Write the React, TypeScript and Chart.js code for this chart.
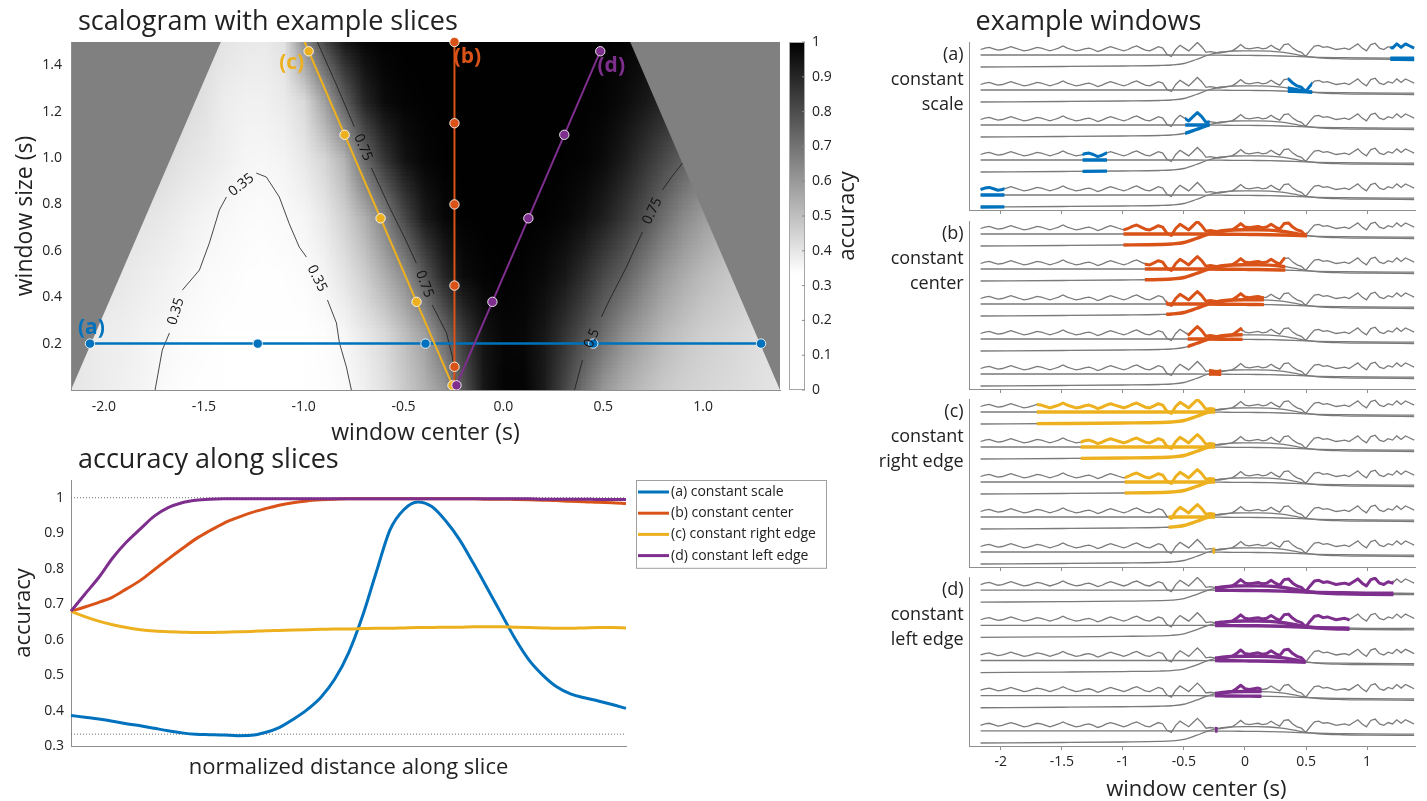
import React, { useEffect, useRef } from "react";
import { Chart, registerables } from "chart.js";

Chart.register(...registerables);

const FONT_FAMILY = '"Open Sans", "Noto Sans", sans-serif';
const TEXT_COLOR = "#222222";
const AXIS_COLOR = "#8f8f8f";
const COLOR_A = "#0072BD";
const COLOR_B = "#D95319";
const COLOR_C = "#EDB120";
const COLOR_D = "#7E2F8E";
const MASK_GRAY = "#808080";
const TRACE_GRAY = "#7a7a7a";

// ---------------- data: scalogram ----------------
const SIGNAL_START = -2.165;
const SIGNAL_END = 1.385;
const HM_SIZE_MAX = 1.5;
const CMAP_LOW = 1 / 3;

const GRID_CENTERS = [-2.2, -2.1, -2.0, -1.9, -1.8, -1.7, -1.6, -1.5, -1.4, -1.3, -1.2, -1.1, -1.0, -0.9, -0.8, -0.7, -0.6, -0.5, -0.4, -0.3, -0.2, -0.1, 0.0, 0.1, 0.2, 0.3, 0.4, 0.5, 0.6, 0.7, 0.8, 0.9, 1.0, 1.1, 1.2, 1.3, 1.4];
const GRID_SIZES = [0, 0.25, 0.5, 0.75, 1.0, 1.25, 1.5];
const ACC_S000 = [0.40, 0.39, 0.38, 0.37, 0.36, 0.345, 0.337, 0.333, 0.33, 0.33, 0.33, 0.33, 0.33, 0.335, 0.345, 0.37, 0.41, 0.47, 0.53, 0.60, 0.78, 0.94, 0.99, 0.99, 0.93, 0.82, 0.70, 0.60, 0.54, 0.50, 0.47, 0.45, 0.44, 0.43, 0.42, 0.41, 0.40];
const ACC_S025 = [0.40, 0.39, 0.38, 0.375, 0.365, 0.355, 0.345, 0.338, 0.333, 0.331, 0.33, 0.329, 0.33, 0.338, 0.355, 0.39, 0.43, 0.50, 0.58, 0.72, 0.85, 0.95, 0.985, 0.98, 0.94, 0.87, 0.79, 0.71, 0.63, 0.57, 0.52, 0.485, 0.46, 0.445, 0.43, 0.415, 0.405];
const ACC_S050 = [0.42, 0.41, 0.40, 0.39, 0.38, 0.37, 0.358, 0.347, 0.34, 0.335, 0.333, 0.335, 0.342, 0.36, 0.40, 0.46, 0.54, 0.63, 0.77, 0.90, 0.97, 0.99, 0.995, 0.99, 0.975, 0.94, 0.88, 0.81, 0.75, 0.67, 0.60, 0.55, 0.51, 0.485, 0.465, 0.45, 0.44];
const ACC_S075 = [0.44, 0.43, 0.42, 0.41, 0.40, 0.39, 0.375, 0.362, 0.352, 0.345, 0.34, 0.347, 0.358, 0.39, 0.45, 0.54, 0.66, 0.81, 0.93, 0.98, 0.995, 0.997, 0.997, 0.997, 0.995, 0.985, 0.96, 0.92, 0.86, 0.79, 0.71, 0.64, 0.59, 0.55, 0.52, 0.50, 0.48];
const ACC_S100 = [0.47, 0.46, 0.45, 0.445, 0.44, 0.425, 0.405, 0.39, 0.375, 0.358, 0.355, 0.362, 0.39, 0.44, 0.53, 0.72, 0.86, 0.95, 0.985, 0.995, 0.997, 0.997, 0.997, 0.997, 0.997, 0.995, 0.99, 0.97, 0.93, 0.87, 0.81, 0.75, 0.69, 0.64, 0.60, 0.57, 0.55];
const ACC_S125 = [0.50, 0.49, 0.48, 0.47, 0.46, 0.45, 0.43, 0.41, 0.38, 0.37, 0.37, 0.385, 0.43, 0.575, 0.75, 0.90, 0.97, 0.99, 0.995, 0.997, 0.997, 0.997, 0.997, 0.997, 0.997, 0.997, 0.995, 0.99, 0.97, 0.94, 0.90, 0.85, 0.80, 0.76, 0.72, 0.69, 0.66];
const ACC_S150 = [0.53, 0.52, 0.51, 0.50, 0.49, 0.47, 0.45, 0.42, 0.40, 0.39, 0.385, 0.41, 0.62, 0.80, 0.93, 0.98, 0.995, 0.997, 0.997, 0.997, 0.997, 0.997, 0.997, 0.997, 0.997, 0.997, 0.997, 0.995, 0.99, 0.98, 0.96, 0.93, 0.90, 0.87, 0.84, 0.81, 0.78];
const ACC_GRID = [ACC_S000, ACC_S025, ACC_S050, ACC_S075, ACC_S100, ACC_S125, ACC_S150];

const HM_X_TICKS = [-2, -1.5, -1, -0.5, 0, 0.5, 1];
const HM_Y_TICKS = [0.2, 0.4, 0.6, 0.8, 1.0, 1.2, 1.4];
const CBAR_TICKS = [0, 0.1, 0.2, 0.3, 0.4, 0.5, 0.6, 0.7, 0.8, 0.9, 1];

// slices (window center, window size)
const SLICE_A_SIZE = 0.2;
const SLICE_A_CENTERS = [-2.07, -1.23, -0.39, 0.45, 1.29];
const SLICE_B_CENTER = -0.245;
const SLICE_B_SIZES = [0.1, 0.45, 0.8, 1.15, 1.5];
const SLICE_B_EXTENT = [0.0, 1.5];
const SLICE_C_RIGHT_EDGE = -0.245;
const SLICE_C_SIZES = [0.02, 0.38, 0.74, 1.1, 1.46];
const SLICE_C_EXTENT = [0.02, 1.5];
const SLICE_D_LEFT_EDGE = -0.245;
const SLICE_D_SIZES = [0.02, 0.38, 0.74, 1.1, 1.46];
const SLICE_D_EXTENT = [0.02, 1.46];

const SLICE_LABELS = [
  { text: "(a)", c: -2.063, s: 0.267, color: COLOR_A },
  { text: "(b)", c: -0.18, s: 1.435, color: COLOR_B },
  { text: "(c)", c: -1.06, s: 1.41, color: COLOR_C },
  { text: "(d)", c: 0.54, s: 1.397, color: COLOR_D },
];

// contour traces (center, size), split where labels sit
const CONTOUR_035 = [
  [[-1.744, 0.0], [-1.708, 0.172], [-1.672, 0.246]],
  [[-1.607, 0.431], [-1.522, 0.517], [-1.472, 0.634], [-1.422, 0.776], [-1.387, 0.832]],
  [[-1.237, 0.935], [-1.187, 0.918], [-1.122, 0.832], [-1.072, 0.716], [-1.022, 0.616], [-0.986, 0.573]],
  [[-0.881, 0.388], [-0.836, 0.289], [-0.821, 0.203], [-0.786, 0.099], [-0.761, 0.0]],
];
const CONTOUR_035_LABELS = ["0.35", "0.35", "0.35"];
const CONTOUR_075_LEFT = [
  [[-0.931, 1.5], [-0.836, 1.315], [-0.746, 1.134]],
  [[-0.661, 0.957], [-0.571, 0.789], [-0.496, 0.659], [-0.436, 0.547]],
  [[-0.356, 0.366], [-0.285, 0.246], [-0.255, 0.142], [-0.235, 0.0]],
];
const CONTOUR_075_LEFT_LABELS = ["0.75", "0.75"];
const CONTOUR_RIGHT = [
  [[0.896, 0.978], [0.831, 0.905], [0.796, 0.862]],
  [[0.696, 0.681], [0.616, 0.53], [0.531, 0.388], [0.491, 0.315]],
  [[0.396, 0.129], [0.356, 0.0]],
];
const CONTOUR_RIGHT_LABELS = ["0.75", "0.5"];

// ---------------- data: accuracy along slices ----------------
const ACC_T = [0, 0.025, 0.05, 0.075, 0.1, 0.125, 0.15, 0.175, 0.2, 0.225, 0.25, 0.275, 0.3, 0.325, 0.35, 0.375, 0.4, 0.425, 0.45, 0.475, 0.5, 0.525, 0.55, 0.575, 0.6, 0.625, 0.65, 0.675, 0.7, 0.725, 0.75, 0.775, 0.8, 0.825, 0.85, 0.875, 0.9, 0.925, 0.95, 0.975, 1.0];
const ACC_A = [0.386, 0.381, 0.376, 0.37, 0.363, 0.357, 0.35, 0.343, 0.337, 0.333, 0.332, 0.331, 0.329, 0.33, 0.338, 0.352, 0.375, 0.402, 0.437, 0.488, 0.562, 0.665, 0.79, 0.91, 0.967, 0.988, 0.975, 0.935, 0.882, 0.815, 0.745, 0.674, 0.603, 0.543, 0.5, 0.467, 0.447, 0.436, 0.427, 0.417, 0.406];
const ACC_B = [0.68, 0.692, 0.705, 0.72, 0.743, 0.767, 0.797, 0.827, 0.856, 0.884, 0.907, 0.928, 0.944, 0.958, 0.969, 0.979, 0.986, 0.991, 0.994, 0.996, 0.997, 0.997, 0.997, 0.997, 0.997, 0.997, 0.997, 0.997, 0.997, 0.997, 0.996, 0.996, 0.995, 0.994, 0.993, 0.992, 0.99, 0.989, 0.987, 0.986, 0.984];
const ACC_C = [0.68, 0.665, 0.652, 0.642, 0.634, 0.628, 0.624, 0.622, 0.621, 0.62, 0.62, 0.621, 0.622, 0.623, 0.625, 0.626, 0.627, 0.628, 0.629, 0.63, 0.63, 0.631, 0.632, 0.632, 0.633, 0.634, 0.634, 0.635, 0.635, 0.636, 0.636, 0.636, 0.635, 0.634, 0.633, 0.632, 0.632, 0.633, 0.634, 0.634, 0.633];
const ACC_D = [0.68, 0.728, 0.775, 0.83, 0.875, 0.912, 0.948, 0.972, 0.986, 0.993, 0.996, 0.997, 0.997, 0.997, 0.997, 0.997, 0.997, 0.997, 0.997, 0.997, 0.997, 0.997, 0.997, 0.997, 0.997, 0.997, 0.997, 0.997, 0.997, 0.997, 0.997, 0.997, 0.997, 0.997, 0.996, 0.996, 0.996, 0.996, 0.995, 0.995, 0.995];
const ACC_SERIES_LABELS = ["(a) constant scale", "(b) constant center", "(c) constant right edge", "(d) constant left edge"];
const ACC_Y_TICKS = [0.3, 0.4, 0.5, 0.6, 0.7, 0.8, 0.9, 1.0];
const REF_LEVELS = [1, 1 / 3];

// ---------------- data: example windows ----------------
const SIGNAL = [0, 1.4, 2.1, 0.7, -0.7, 0, 1.4, 2.8, 1.4, 0, -1.4,
  -0.7, 0.7, 2.1, 1.4, 0, -1.4, 0, 1.4, 3.5, 1.4,
  0, -1.4, -0.7, 0.7, 1.4, 0, -2.1, -0.7, 1.4, 2.8,
  1.4, 0, -1.4, 0, 2.1, 3.5, 1.4, -0.7, -1.4, 0.7,
  2.8, 1.4, -4.9, -7, 0, 4.2, 1.4, -1.4, 2.8, 7,
  2.8, -2.8, -2.1, -2.8, -3.5, -2.8, -2.1, -1.4, 1.4, 4.9,
  1.4, 0.7, 1.4, 2.1, 0.7, 1.4, 4.2, 1.4, -0.7, 4.9,
  5.6, 1.4, -1.4, -2.8, -7, -1.4, 3.5, 4.2, 2.1, 2.8,
  1.4, 0, 0.7, 1.4, 0, 2.8, 5.6, 1.4, -1.4, 4.9,
  6.3, 1.4, 0, 2.8, 1.4, 5.6, 2.1, 5.6, 3.5, 1.4];
const TEMPLATE_T = [-2.165, -1.5, -1.0, -0.7, -0.6, -0.5, -0.4, -0.3, -0.2, -0.1, 0.0, 0.1, 0.2, 0.3, 0.4, 0.5, 0.6, 0.8, 1.0, 1.385];
const TEMPLATE_A = [12, 12, 12, 12, 12, 12, 12, 11.9, 11.8, 11.7, 11.6, 11.5, 11.3, 11.0, 10.6, 10.1, 9.7, 9.3, 9.0, 8.8];
const TEMPLATE_B = [0, 0.5, 1, 1.5, 2, 3.5, 7.5, 12, 15, 16, 16.2, 16.2, 15.9, 14.8, 12.8, 10.6, 9.2, 8.2, 7.8, 7.5];
const WIN_X_TICKS = [-2, -1.5, -1, -0.5, 0, 0.5, 1];

// ---------------- layout constants ----------------
const ROW_PITCH = 35;
const NOISE_LEVEL = 17.5;
const WIN_Y_MIN = -3;
const WIN_Y_MAX = 165;
const WIN_X_MIN = -2.255;
const WIN_X_MAX = 1.392;

const font = (size: number, weight = "normal") => `${weight} ${size}px ${FONT_FAMILY}`;

function grayFor(v: number) {
  const f = Math.min(1, Math.max(0, (v - CMAP_LOW) / (1 - CMAP_LOW)));
  return Math.round(255 * (1 - f));
}

// ---------------- plugins ----------------
const heatmapPlugin = {
  id: "heatmap",
  beforeDatasetsDraw(chart: any) {
    const { ctx, chartArea: a, scales } = chart;
    const x = scales.x, y = scales.y;
    ctx.save();
    ctx.beginPath();
    ctx.rect(a.left, a.top, a.right - a.left, a.bottom - a.top);
    ctx.clip();
    ctx.fillStyle = MASK_GRAY;
    ctx.fillRect(a.left, a.top, a.right - a.left, a.bottom - a.top);
    // valid region: window fits inside the signal
    ctx.beginPath();
    ctx.moveTo(x.getPixelForValue(SIGNAL_START), y.getPixelForValue(0));
    ctx.lineTo(x.getPixelForValue(SIGNAL_END), y.getPixelForValue(0));
    ctx.lineTo(x.getPixelForValue(SIGNAL_END - HM_SIZE_MAX / 2), y.getPixelForValue(HM_SIZE_MAX));
    ctx.lineTo(x.getPixelForValue(SIGNAL_START + HM_SIZE_MAX / 2), y.getPixelForValue(HM_SIZE_MAX));
    ctx.closePath();
    ctx.clip();
    const nC = GRID_CENTERS.length, nR = GRID_SIZES.length;
    const off = document.createElement("canvas");
    off.width = nC;
    off.height = nR;
    const octx = off.getContext("2d")!;
    const img = octx.createImageData(nC, nR);
    for (let r = 0; r < nR; r++) {
      const row = ACC_GRID[r];
      const iy = nR - 1 - r;
      for (let c = 0; c < nC; c++) {
        const g = grayFor(row[c]);
        const k = (iy * nC + c) * 4;
        img.data[k] = g; img.data[k + 1] = g; img.data[k + 2] = g; img.data[k + 3] = 255;
      }
    }
    octx.putImageData(img, 0, 0);
    const dc = GRID_CENTERS[1] - GRID_CENTERS[0];
    const ds = GRID_SIZES[1] - GRID_SIZES[0];
    const x0 = x.getPixelForValue(GRID_CENTERS[0] - dc / 2);
    const x1 = x.getPixelForValue(GRID_CENTERS[nC - 1] + dc / 2);
    const yTop = y.getPixelForValue(GRID_SIZES[nR - 1] + ds / 2);
    const yBot = y.getPixelForValue(GRID_SIZES[0] - ds / 2);
    ctx.imageSmoothingEnabled = true;
    ctx.drawImage(off, x0, yTop, x1 - x0, yBot - yTop);
    ctx.restore();
  },
};

const CONTOURS = [
  { segs: CONTOUR_035, labels: CONTOUR_035_LABELS },
  { segs: CONTOUR_075_LEFT, labels: CONTOUR_075_LEFT_LABELS },
  { segs: CONTOUR_RIGHT, labels: CONTOUR_RIGHT_LABELS },
];

const heatmapText = {
  id: "heatmapText",
  afterDraw(chart: any) {
    const { ctx, chartArea: a, scales } = chart;
    const x = scales.x, y = scales.y;
    ctx.save();
    // contour labels
    ctx.font = font(14);
    ctx.fillStyle = "#111";
    ctx.textAlign = "center";
    ctx.textBaseline = "middle";
    CONTOURS.forEach((cn) => {
      for (let i = 0; i < cn.segs.length - 1; i++) {
        const p = cn.segs[i][cn.segs[i].length - 1];
        const q = cn.segs[i + 1][0];
        const px = x.getPixelForValue(p[0]), py = y.getPixelForValue(p[1]);
        const qx = x.getPixelForValue(q[0]), qy = y.getPixelForValue(q[1]);
        let ang = Math.atan2(qy - py, qx - px);
        if (ang > Math.PI / 2) ang -= Math.PI;
        if (ang < -Math.PI / 2) ang += Math.PI;
        ctx.save();
        ctx.translate((px + qx) / 2, (py + qy) / 2);
        ctx.rotate(ang);
        ctx.fillText(cn.labels[i], 0, 0);
        ctx.restore();
      }
    });
    // slice labels
    ctx.font = font(21, "bold");
    SLICE_LABELS.forEach((l) => {
      ctx.fillStyle = l.color;
      ctx.fillText(l.text, x.getPixelForValue(l.c), y.getPixelForValue(l.s));
    });
    // title
    ctx.fillStyle = TEXT_COLOR;
    ctx.font = font(27);
    ctx.textAlign = "left";
    ctx.textBaseline = "alphabetic";
    ctx.fillText("scalogram with example slices", a.left + 7, 30);
    // axis titles
    ctx.font = font(23);
    ctx.textAlign = "center";
    ctx.textBaseline = "middle";
    ctx.fillText("window center (s)", (a.left + a.right) / 2, a.bottom + 43);
    ctx.save();
    ctx.translate(25, (a.top + a.bottom) / 2);
    ctx.rotate(-Math.PI / 2);
    ctx.fillText("window size (s)", 0, 0);
    ctx.restore();
    // colorbar
    const cbL = a.right + 9, cbW = 16, cbT = a.top, cbB = a.bottom;
    const grad = ctx.createLinearGradient(0, cbB, 0, cbT);
    [0, CMAP_LOW, 1].forEach((v) => {
      const g = grayFor(v);
      grad.addColorStop(v, `rgb(${g},${g},${g})`);
    });
    ctx.fillStyle = grad;
    ctx.fillRect(cbL, cbT, cbW, cbB - cbT);
    ctx.strokeStyle = "#a6a6a6";
    ctx.lineWidth = 1;
    ctx.strokeRect(cbL + 0.5, cbT + 0.5, cbW - 1, cbB - cbT - 1);
    ctx.font = font(14);
    ctx.textAlign = "left";
    ctx.fillStyle = TEXT_COLOR;
    CBAR_TICKS.forEach((v) => {
      const yy = cbB - (cbB - cbT) * v;
      ctx.beginPath();
      ctx.moveTo(cbL + cbW - 3, yy);
      ctx.lineTo(cbL + cbW, yy);
      ctx.strokeStyle = "#8a8a8a";
      ctx.stroke();
      ctx.fillText(v === 0 || v === 1 ? String(v) : v.toFixed(1), cbL + cbW + 7, yy);
    });
    ctx.font = font(22);
    ctx.textAlign = "center";
    ctx.save();
    ctx.translate(cbL + cbW + 43, (cbT + cbB) / 2);
    ctx.rotate(-Math.PI / 2);
    ctx.fillText("accuracy", 0, 0);
    ctx.restore();
    ctx.restore();
  },
};

const accuracyText = {
  id: "accuracyText",
  afterDraw(chart: any) {
    const { ctx, chartArea: a } = chart;
    ctx.save();
    ctx.fillStyle = TEXT_COLOR;
    ctx.font = font(27);
    ctx.textAlign = "left";
    ctx.textBaseline = "alphabetic";
    ctx.fillText("accuracy along slices", a.left + 7, 23);
    ctx.font = font(22);
    ctx.textAlign = "center";
    ctx.textBaseline = "middle";
    ctx.fillText("normalized distance along slice", (a.left + a.right) / 2, a.bottom + 22);
    ctx.save();
    ctx.translate(24, (a.top + a.bottom) / 2);
    ctx.rotate(-Math.PI / 2);
    ctx.fillText("accuracy", 0, 0);
    ctx.restore();
    // legend box
    const items = chart.data.datasets.filter((d: any) => d.inLegend);
    const bx = a.right + 10, by = a.top, bw = 190, rowH = 21.2, bh = items.length * rowH + 3;
    ctx.fillStyle = "#fff";
    ctx.fillRect(bx, by, bw, bh);
    ctx.strokeStyle = "#a0a0a0";
    ctx.lineWidth = 1;
    ctx.strokeRect(bx + 0.5, by + 0.5, bw, bh);
    ctx.font = font(14);
    ctx.textAlign = "left";
    items.forEach((d: any, i: number) => {
      const yy = by + 12 + i * rowH;
      ctx.strokeStyle = d.borderColor;
      ctx.lineWidth = 3;
      ctx.beginPath();
      ctx.moveTo(bx + 2, yy);
      ctx.lineTo(bx + 33, yy);
      ctx.stroke();
      ctx.fillStyle = TEXT_COLOR;
      ctx.fillText(d.label, bx + 35, yy);
    });
    ctx.restore();
  },
};

const windowClip = {
  id: "windowClip",
  beforeDatasetDraw(chart: any, args: any) {
    const ds = chart.data.datasets[args.index];
    if (!ds.windowRange) return;
    const { ctx, chartArea: a, scales } = chart;
    const xl = scales.x.getPixelForValue(ds.windowRange[0]);
    const xr = scales.x.getPixelForValue(ds.windowRange[1]);
    ctx.save();
    ctx.beginPath();
    ctx.rect(xl, a.top - 10, Math.max(xr - xl, 1.5), a.bottom - a.top + 20);
    ctx.clip();
  },
  afterDatasetDraw(chart: any, args: any) {
    const ds = chart.data.datasets[args.index];
    if (!ds.windowRange) return;
    chart.ctx.restore();
  },
};

const windowText = {
  id: "windowText",
  afterDraw(chart: any) {
    const { ctx, chartArea: a } = chart;
    const p = chart.options.plugins.windowText;
    ctx.save();
    ctx.fillStyle = TEXT_COLOR;
    ctx.font = font(18);
    ctx.textAlign = "right";
    ctx.textBaseline = "middle";
    p.label.forEach((t: string, i: number) => ctx.fillText(t, a.left - 6, a.top + 12.5 + i * 25));
    if (p.title) {
      ctx.font = font(27);
      ctx.textAlign = "left";
      ctx.textBaseline = "alphabetic";
      ctx.fillText(p.title, a.left + 6, 30);
    }
    if (p.xTitle) {
      ctx.font = font(22);
      ctx.textAlign = "center";
      ctx.textBaseline = "middle";
      ctx.fillText(p.xTitle, (a.left + a.right) / 2 + 4, a.bottom + 44);
    }
    ctx.restore();
  },
};

// ---------------- chart builders ----------------
const tickFont = { family: FONT_FAMILY, size: 14 };

function makeHeatmap(canvas: HTMLCanvasElement) {
  const dots = (pts: any[], color: string) => ({
    data: pts, showLine: false, pointRadius: 4.7, pointHoverRadius: 4.7,
    pointBackgroundColor: color, pointBorderColor: "rgba(255,255,255,0.85)", pointBorderWidth: 1, clip: false,
  });
  const line = (pts: any[], color: string, w: number, clip: any = false) => ({
    data: pts, showLine: true, borderColor: color, borderWidth: w, pointRadius: 0, pointHoverRadius: 0, clip,
  });
  const cOf = (s: number) => SLICE_C_RIGHT_EDGE - s / 2;
  const dOf = (s: number) => SLICE_D_LEFT_EDGE + s / 2;
  const datasets: any[] = [
    dots(SLICE_D_SIZES.map((s) => ({ x: dOf(s), y: s })), COLOR_D),
    line(SLICE_D_EXTENT.map((s) => ({ x: dOf(s), y: s })), COLOR_D, 2),
    dots(SLICE_C_SIZES.map((s) => ({ x: cOf(s), y: s })), COLOR_C),
    line(SLICE_C_EXTENT.map((s) => ({ x: cOf(s), y: s })), COLOR_C, 2),
    dots(SLICE_B_SIZES.map((s) => ({ x: SLICE_B_CENTER, y: s })), COLOR_B),
    line(SLICE_B_EXTENT.map((s) => ({ x: SLICE_B_CENTER, y: s })), COLOR_B, 2),
    dots(SLICE_A_CENTERS.map((c) => ({ x: c, y: SLICE_A_SIZE })), COLOR_A),
    line([SLICE_A_CENTERS[0], SLICE_A_CENTERS[SLICE_A_CENTERS.length - 1]].map((c) => ({ x: c, y: SLICE_A_SIZE })), COLOR_A, 2.5),
  ];
  CONTOURS.forEach((cn) => cn.segs.forEach((seg) => datasets.push(line(seg.map((p) => ({ x: p[0], y: p[1] })), "#1a1a1a", 0.8, true))));
  return new Chart(canvas as any, {
    type: "scatter",
    data: { datasets },
    options: {
      responsive: false,
      animation: false,
      events: [],
      layout: { padding: { left: 0, right: 120, top: 42, bottom: 0 } },
      plugins: { legend: { display: false }, tooltip: { enabled: false } },
      scales: {
        x: {
          type: "linear", min: SIGNAL_START, max: SIGNAL_END,
          afterBuildTicks: (s: any) => { s.ticks = HM_X_TICKS.map((v) => ({ value: v })); },
          afterFit: (s: any) => { s.height = 60; },
          ticks: { font: tickFont, color: TEXT_COLOR, padding: 9, maxRotation: 0, autoSkip: false, callback: (v: any) => Number(v).toFixed(1) },
          grid: { display: false, drawTicks: false },
          border: { display: true, color: AXIS_COLOR, z: 1 },
        },
        y: {
          type: "linear", min: 0, max: HM_SIZE_MAX,
          afterBuildTicks: (s: any) => { s.ticks = HM_Y_TICKS.map((v) => ({ value: v })); },
          afterFit: (s: any) => { s.width = 71; },
          ticks: { font: tickFont, color: TEXT_COLOR, padding: 9, autoSkip: false, callback: (v: any) => Number(v).toFixed(1) },
          grid: { display: false, drawTicks: false },
          border: { display: true, color: AXIS_COLOR, z: 1 },
        },
      },
    } as any,
    plugins: [heatmapPlugin, heatmapText],
  } as any);
}

function makeAccuracy(canvas: HTMLCanvasElement) {
  const series = [ACC_A, ACC_B, ACC_C, ACC_D];
  const colors = [COLOR_A, COLOR_B, COLOR_C, COLOR_D];
  const datasets: any[] = series.map((vals, i) => ({
    label: ACC_SERIES_LABELS[i],
    inLegend: true,
    data: vals.map((v, k) => ({ x: ACC_T[k], y: v })),
    borderColor: colors[i],
    borderWidth: 3,
    pointRadius: 0,
    cubicInterpolationMode: "monotone",
    order: 4 - i,
    clip: 3,
  }));
  REF_LEVELS.forEach((lv) => datasets.push({
    data: [{ x: 0, y: lv }, { x: 1, y: lv }],
    borderColor: "#6e6e6e", borderWidth: 1, borderDash: [1, 2], pointRadius: 0, order: 10,
  }));
  return new Chart(canvas as any, {
    type: "line",
    data: { datasets },
    options: {
      responsive: false,
      animation: false,
      events: [],
      layout: { padding: { left: 0, right: 274, top: 35, bottom: 0 } },
      plugins: { legend: { display: false }, tooltip: { enabled: false } },
      scales: {
        x: {
          type: "linear", min: 0, max: 1,
          ticks: { display: false },
          afterFit: (s: any) => { s.height = 55; },
          grid: { display: false, drawTicks: false },
          border: { display: true, color: AXIS_COLOR },
        },
        y: {
          type: "linear", min: 0.3, max: 1.05,
          afterBuildTicks: (s: any) => { s.ticks = ACC_Y_TICKS.map((v) => ({ value: v })); },
          afterFit: (s: any) => { s.width = 71; },
          ticks: { font: tickFont, color: TEXT_COLOR, padding: 7, autoSkip: false, callback: (v: any) => (Math.abs(v - 1) < 1e-9 ? "1" : Number(v).toFixed(1)) },
          grid: { display: false, drawTicks: false },
          border: { display: true, color: AXIS_COLOR },
        },
      },
    } as any,
    plugins: [accuracyText],
  } as any);
}

const SIGNAL_DT = (SIGNAL_END - SIGNAL_START) / (SIGNAL.length - 1);

const PANELS = [
  { color: COLOR_A, label: ["(a)", "constant", "scale"], windows: SLICE_A_CENTERS.map((c) => [c - SLICE_A_SIZE / 2, c + SLICE_A_SIZE / 2]).reverse(), top: 0, height: 215, padTop: 42, axisH: 5, showTicks: false, title: "example windows", xTitle: "" },
  { color: COLOR_B, label: ["(b)", "constant", "center"], windows: SLICE_B_SIZES.map((s) => [SLICE_B_CENTER - s / 2, SLICE_B_CENTER + s / 2]).reverse(), top: 215, height: 180, padTop: 6, axisH: 6, showTicks: false, title: "", xTitle: "" },
  { color: COLOR_C, label: ["(c)", "constant", "right edge"], windows: SLICE_C_SIZES.map((s) => [SLICE_C_RIGHT_EDGE - s, SLICE_C_RIGHT_EDGE]).reverse(), top: 393, height: 180, padTop: 6, axisH: 6, showTicks: false, title: "", xTitle: "" },
  { color: COLOR_D, label: ["(d)", "constant", "left edge"], windows: SLICE_D_SIZES.map((s) => [SLICE_D_LEFT_EDGE, SLICE_D_LEFT_EDGE + s]).reverse(), top: 571, height: 230, padTop: 6, axisH: 55, showTicks: true, title: "", xTitle: "window center (s)" },
];

const WIN_CANVAS_LEFT = 870;
const WIN_CANVAS_WIDTH = 557;

function makeWindows(canvas: HTMLCanvasElement, p: any) {
  const colored: any[] = [];
  const gray: any[] = [];
  p.windows.forEach((w: number[], r: number) => {
    const off = (p.windows.length - 1 - r) * ROW_PITCH;
    const noise = SIGNAL.map((v, i) => ({ x: SIGNAL_START + i * SIGNAL_DT, y: v + NOISE_LEVEL + off }));
    const ta = TEMPLATE_A.map((v, i) => ({ x: TEMPLATE_T[i], y: v + off }));
    const tb = TEMPLATE_B.map((v, i) => ({ x: TEMPLATE_T[i], y: v + off }));
    [noise, ta, tb].forEach((d, k) => {
      const smooth = k > 0 ? "monotone" : "default";
      gray.push({ data: d, borderColor: TRACE_GRAY, borderWidth: 1.3, pointRadius: 0, cubicInterpolationMode: smooth, tension: 0 });
      colored.push({ data: d, borderColor: p.color, borderWidth: k === 0 ? 3 : 3.4, pointRadius: 0, cubicInterpolationMode: smooth, tension: 0, borderJoinStyle: "round", windowRange: w });
    });
  });
  return new Chart(canvas as any, {
    type: "line",
    data: { datasets: [...colored, ...gray] },
    options: {
      responsive: false,
      animation: false,
      events: [],
      layout: { padding: { left: 99.6, right: 12, top: p.padTop, bottom: 0 } },
      plugins: { legend: { display: false }, tooltip: { enabled: false }, windowText: { label: p.label, title: p.title, xTitle: p.xTitle } },
      scales: {
        x: {
          type: "linear", min: WIN_X_MIN, max: WIN_X_MAX,
          afterBuildTicks: (s: any) => { s.ticks = WIN_X_TICKS.map((v) => ({ value: v })); },
          afterFit: (s: any) => { s.height = p.axisH; },
          ticks: { display: p.showTicks, font: tickFont, color: TEXT_COLOR, padding: 4, maxRotation: 0, autoSkip: false, callback: (v: any) => String(v) },
          grid: { display: true, drawOnChartArea: false, drawTicks: true, tickLength: 4, color: AXIS_COLOR },
          border: { display: true, color: AXIS_COLOR },
        },
        y: {
          type: "linear", min: WIN_Y_MIN, max: WIN_Y_MAX,
          afterFit: (s: any) => { s.width = 0; },
          ticks: { display: false },
          grid: { display: false, drawTicks: false },
          border: { display: true, color: AXIS_COLOR },
        },
      },
    } as any,
    plugins: [windowClip, windowText],
  } as any);
}

export default function App() {
  const hmRef = useRef<HTMLCanvasElement>(null);
  const accRef = useRef<HTMLCanvasElement>(null);
  const w0 = useRef<HTMLCanvasElement>(null);
  const w1 = useRef<HTMLCanvasElement>(null);
  const w2 = useRef<HTMLCanvasElement>(null);
  const w3 = useRef<HTMLCanvasElement>(null);
  const winRefs = [w0, w1, w2, w3];

  useEffect(() => {
    const charts: any[] = [];
    if (hmRef.current) charts.push(makeHeatmap(hmRef.current));
    if (accRef.current) charts.push(makeAccuracy(accRef.current));
    PANELS.forEach((p, i) => {
      const c = winRefs[i].current;
      if (c) charts.push(makeWindows(c, p));
    });
    return () => charts.forEach((c) => c.destroy());
  }, []);

  return (
    <div style={{ position: "absolute", left: 0, top: 0, width: 1427, height: 801, background: "#ffffff", overflow: "hidden" }}>
      <canvas ref={hmRef} width={900} height={450} style={{ position: "absolute", left: 0, top: 0 }} />
      <canvas ref={accRef} width={900} height={356} style={{ position: "absolute", left: 0, top: 445 }} />
      {PANELS.map((p, i) => (
        <canvas key={i} ref={winRefs[i]} width={WIN_CANVAS_WIDTH} height={p.height} style={{ position: "absolute", left: WIN_CANVAS_LEFT, top: p.top }} />
      ))}
    </div>
  );
}
